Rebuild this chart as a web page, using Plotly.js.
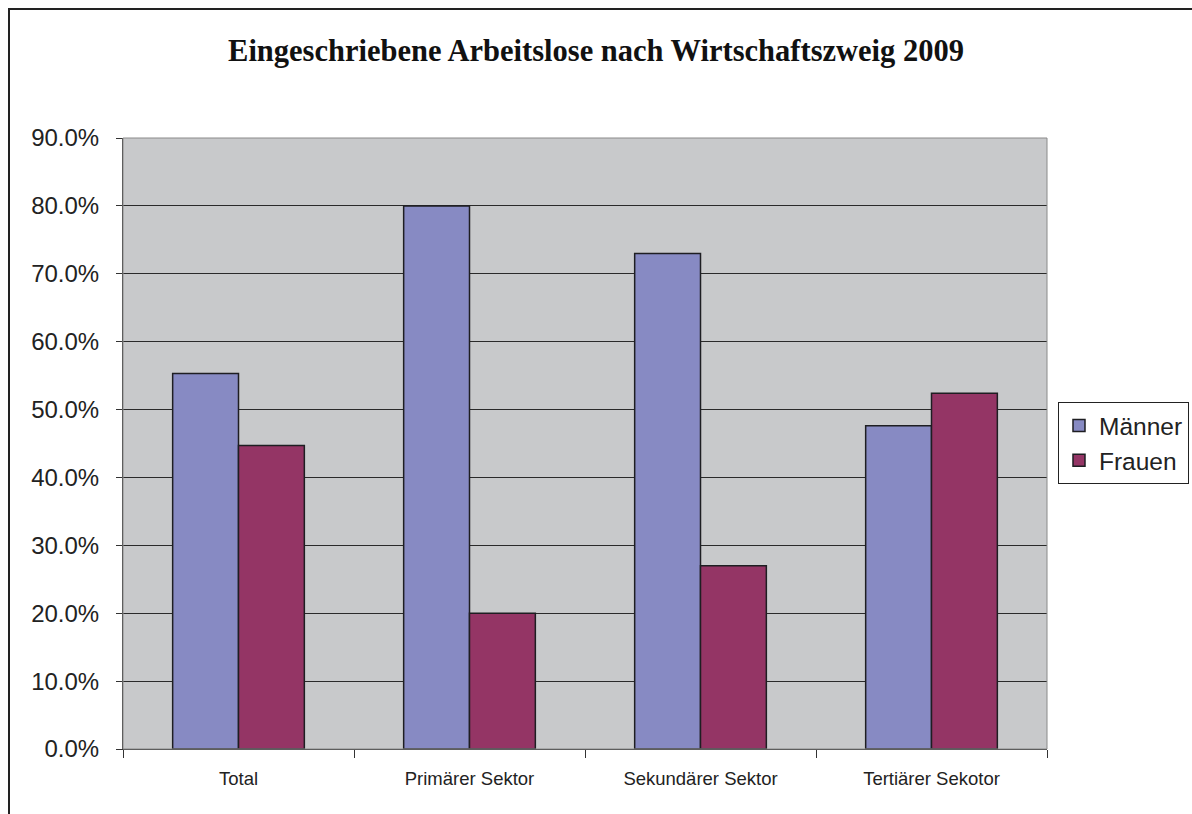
<!DOCTYPE html>
<html>
<head>
<meta charset="utf-8">
<script src="https://cdn.plot.ly/plotly-3.0.1.min.js"></script>
<style>
  body { margin: 0; background: #fff; overflow: hidden; }
  #frame { position: absolute; left: 8px; top: 8px; width: 1200px; height: 820px;
           border-left: 2px solid #222; border-top: 2px solid #222; pointer-events: none; }
  #chart { width: 1192px; height: 814px; }
</style>
</head>
<body>
<div id="chart"></div>
<div id="frame"></div>
<script>
const categories = ["Total", "Primärer Sektor", "Sekundärer Sektor", "Tertiärer Sekotor"];
const maenner = [0.553, 0.800, 0.730, 0.476];
const frauen = [0.447, 0.200, 0.270, 0.524];
const yTicks = [0, 0.1, 0.2, 0.3, 0.4, 0.5, 0.6, 0.7, 0.8, 0.9];

const barLine = { color: "#1e1e22", width: 1.5 };

const traces = [
    {
        type: "bar",
        name: "Männer",
        x: categories,
        y: maenner,
        marker: { color: "#878AC3", line: barLine }
    },
    {
        type: "bar",
        name: "Frauen",
        x: categories,
        y: frauen,
        marker: { color: "#943565", line: barLine }
    }
];

const layout = {
    width: 1192,
    height: 814,
    paper_bgcolor: "#ffffff",
    plot_bgcolor: "#C8C9CB",
    barmode: "group",
    bargap: 0.43,
    bargroupgap: 0,
    title: {
        text: "<b>Eingeschriebene Arbeitslose nach Wirtschaftszweig 2009</b>",
        font: { family: "Liberation Serif, serif", size: 30.5, color: "#111" },
        x: 0.5,
        xanchor: "center",
        y: 0.938,
        yanchor: "middle"
    },
    margin: { l: 123, r: 145, t: 138, b: 65, autoexpand: false },
    font: { family: "Liberation Sans, Arial, sans-serif", color: "#222" },
    xaxis: {
        type: "category",
        tickson: "boundaries",
        ticks: "outside",
        ticklen: 8,
        tickcolor: "#333",
        showline: true,
        linecolor: "#333",
        linewidth: 1,
        showgrid: false,
        tickfont: { size: 18.5, color: "#222" },
        ticklabelstandoff: 13
    },
    yaxis: {
        range: [0, 0.9],
        tickvals: yTicks,
        tickformat: ".1%",
        ticks: "outside",
        ticklen: 6,
        tickcolor: "#333",
        showline: true,
        linecolor: "#333",
        linewidth: 1,
        showgrid: true,
        gridcolor: "#2a2a2a",
        gridwidth: 1,
        zeroline: false,
        tickfont: { size: 24, color: "#222" },
        ticklabelstandoff: 12
    },
    shapes: [{
        type: "rect", xref: "paper", yref: "paper",
        x0: 0, x1: 1, y0: 0, y1: 1,
        line: { color: "#8a8a8a", width: 1 }
    }],
    legend: {
        x: 1.0119,
        y: 0.568,
        xanchor: "left",
        yanchor: "top",
        bgcolor: "#ffffff",
        bordercolor: "#222",
        borderwidth: 1,
        font: { size: 24.5, color: "#222" },
        itemwidth: 30,
        tracegroupgap: 4
    },
    showlegend: true
};

Plotly.newPlot("chart", traces, layout, { staticPlot: true, displayModeBar: false });
</script>
</body>
</html>
